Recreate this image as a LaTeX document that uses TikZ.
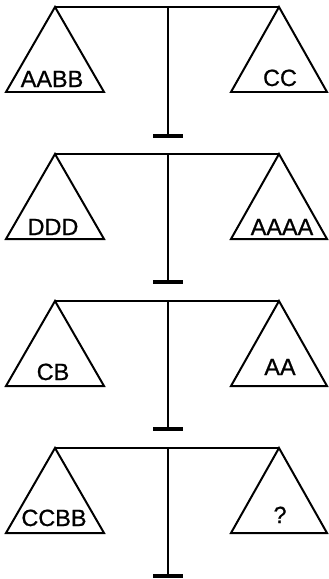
\documentclass[tikz,border=0pt]{standalone}
\usepackage{fontspec}
\setmainfont{Liberation Sans}
\newfontfamily\weightfont[FakeBold=0.8]{Liberation Sans}
\usetikzlibrary{positioning, calc}
\tikzset{
  every picture/.style={line cap=butt},
  beam/.style={line width=2.2pt},
  pan/.style={line width=1.7pt, line join=miter},
  foot/.style={line width=2.8pt},
  weight/.style={font=\weightfont\fontsize{20pt}{22pt}\selectfont, anchor=base, inner sep=0pt},
}

\begin{document}
\begin{tikzpicture}[x=0.03cm, y=-0.03cm]
  \useasboundingbox (0,0) rectangle (328,579);
  % scale 1
  \coordinate (l1) at (55,7);
  \coordinate (r1) at (279,7);
  \coordinate (p1) at (168,7);
  \coordinate (f1) at (168,136);
  \draw[beam] (l1) -- (r1);
  \draw[beam] (p1) -- (f1);
  \draw[foot] ($(f1)+(-15,0)$) -- ($(f1)+(15,0)$);
  \draw[pan] (l1) -- ++(-49,85) -- ++(98,0) -- cycle;
  \draw[pan] (r1) -- ++(-48,85) -- ++(96,0) -- cycle;
  \node[weight] (w1l) at (52,87) {AABB};
  \node[weight] (w1r) at (280,86) {CC};
  % scale 2
  \coordinate (l2) at (55,154);
  \coordinate (r2) at (279,154);
  \coordinate (p2) at (168,154);
  \coordinate (f2) at (168,282);
  \draw[beam] (l2) -- (r2);
  \draw[beam] (p2) -- (f2);
  \draw[foot] ($(f2)+(-15,0)$) -- ($(f2)+(15,0)$);
  \draw[pan] (l2) -- ++(-49,85) -- ++(98,0) -- cycle;
  \draw[pan] (r2) -- ++(-48,85) -- ++(96,0) -- cycle;
  \node[weight] (w2l) at (53,235) {DDD};
  \node[weight] (w2r) at (282,235) {AAAA};
  % scale 3
  \coordinate (l3) at (55,301);
  \coordinate (r3) at (279,301);
  \coordinate (p3) at (168,301);
  \coordinate (f3) at (168,429);
  \draw[beam] (l3) -- (r3);
  \draw[beam] (p3) -- (f3);
  \draw[foot] ($(f3)+(-15,0)$) -- ($(f3)+(15,0)$);
  \draw[pan] (l3) -- ++(-49,85) -- ++(98,0) -- cycle;
  \draw[pan] (r3) -- ++(-48,85) -- ++(96,0) -- cycle;
  \node[weight] (w3l) at (53,380) {CB};
  \node[weight] (w3r) at (280,375) {AA};
  % scale 4
  \coordinate (l4) at (55,448);
  \coordinate (r4) at (279,448);
  \coordinate (p4) at (168,448);
  \coordinate (f4) at (168,576);
  \draw[beam] (l4) -- (r4);
  \draw[beam] (p4) -- (f4);
  \draw[foot] ($(f4)+(-15,0)$) -- ($(f4)+(15,0)$);
  \draw[pan] (l4) -- ++(-49,85) -- ++(98,0) -- cycle;
  \draw[pan] (r4) -- ++(-48,85) -- ++(96,0) -- cycle;
  \node[weight] (w4l) at (54,526) {CCBB};
  \node[weight] (w4r) at (280,523) {?};
\end{tikzpicture}
\end{document}
